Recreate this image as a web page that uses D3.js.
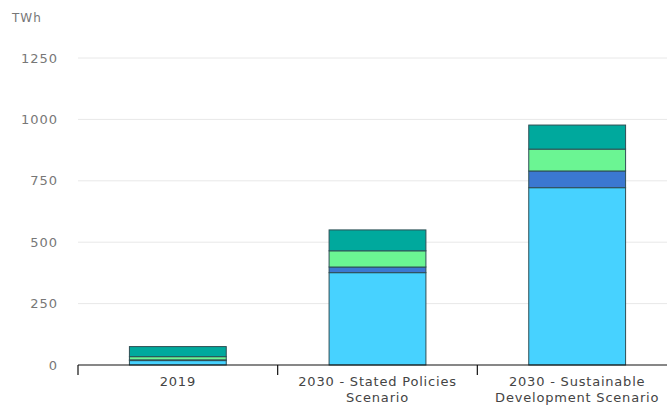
<!DOCTYPE html>
<html>
<head>
<meta charset="utf-8">
<script src="https://cdn.jsdelivr.net/npm/d3@7"></script>
<style>
  body{margin:0;background:#fff;}
  svg{font-family:"DejaVu Sans",sans-serif;}
</style>
</head>
<body>
<script>
const categories=["2019","2030 - Stated Policies Scenario","2030 - Sustainable Development Scenario"];
const categoryLines=[["2019"],["2030 - Stated Policies","Scenario"],["2030 - Sustainable","Development Scenario"]];
const seriesKeys=["seriesA","seriesB","seriesC","seriesD"];
const seriesA=[18,376,722];
const seriesB=[3,23,68];
const seriesC=[13,66,89];
const seriesD=[41,85,98];
const yTicks=[0,250,500,750,1000,1250];
const colors=["#47d2ff","#3b78d1","#6bf593","#00a99d"];

const w=667, h=405;
const margin={top:58,left:78,right:-10,bottom:40};

const rows=categories.map((c,i)=>({
  category:c,
  seriesA:seriesA[i],seriesB:seriesB[i],seriesC:seriesC[i],seriesD:seriesD[i]
}));

const svg=d3.select("body").append("svg").attr("width",w).attr("height",h);

const xScale=d3.scaleBand().domain(categories).range([margin.left,w-margin.right]).padding(0);
const yScale=d3.scaleLinear().domain([0,1250]).range([h-margin.bottom,margin.top]);

// grid
svg.append("g")
  .selectAll("line")
  .data(yTicks.filter(t=>t>0))
  .enter().append("line")
  .attr("x1",margin.left).attr("x2",w)
  .attr("y1",d=>yScale(d)).attr("y2",d=>yScale(d))
  .attr("stroke","#e8e8e8").attr("stroke-width",1);

// y labels
svg.append("g")
  .selectAll("text")
  .data(yTicks)
  .enter().append("text")
  .attr("x",58).attr("y",d=>yScale(d))
  .attr("dy","0.35em")
  .attr("text-anchor","end")
  .style("font-size","13px")
  .style("letter-spacing","1px")
  .attr("fill","#777")
  .text(d=>d);

svg.append("text")
  .text("TWh")
  .attr("x",12).attr("y",22)
  .style("font-size","12px")
  .style("letter-spacing","1px")
  .attr("fill","#777");

// bars
const stacked=d3.stack().keys(seriesKeys)(rows);
const barW=xScale.bandwidth()*0.485;
svg.append("g")
  .selectAll("g")
  .data(stacked)
  .enter().append("g")
  .attr("fill",(d,i)=>colors[i])
  .selectAll("rect")
  .data(d=>d)
  .enter().append("rect")
  .attr("x",d=>xScale(d.data.category)+(xScale.bandwidth()-barW)/2)
  .attr("y",d=>yScale(d[1]))
  .attr("width",barW)
  .attr("height",d=>yScale(d[0])-yScale(d[1]))
  .attr("stroke","#2f4f55")
  .attr("stroke-width",1);

// x axis
const xAxis=svg.append("g").attr("transform",`translate(0,${yScale(0)})`);
xAxis.append("line")
  .attr("x1",margin.left).attr("x2",w)
  .attr("stroke","#111").attr("stroke-width",1.2);
xAxis.selectAll(".tick")
  .data(categories)
  .enter().append("line")
  .attr("x1",d=>xScale(d)).attr("x2",d=>xScale(d))
  .attr("y1",0).attr("y2",10)
  .attr("stroke","#111").attr("stroke-width",1.2);
xAxis.selectAll(".lbl")
  .data(categories)
  .enter().append("text")
  .attr("x",d=>xScale(d)+xScale.bandwidth()/2)
  .attr("y",21)
  .attr("text-anchor","middle")
  .style("font-size","13px")
  .style("letter-spacing","0.8px")
  .attr("fill","#444")
  .each(function(d,i){
    const t=d3.select(this);
    categoryLines[i].forEach((line,j)=>{
      t.append("tspan").attr("x",xScale(d)+xScale.bandwidth()/2).attr("dy",j?16:0).text(line);
    });
  });
</script>
</body>
</html>
